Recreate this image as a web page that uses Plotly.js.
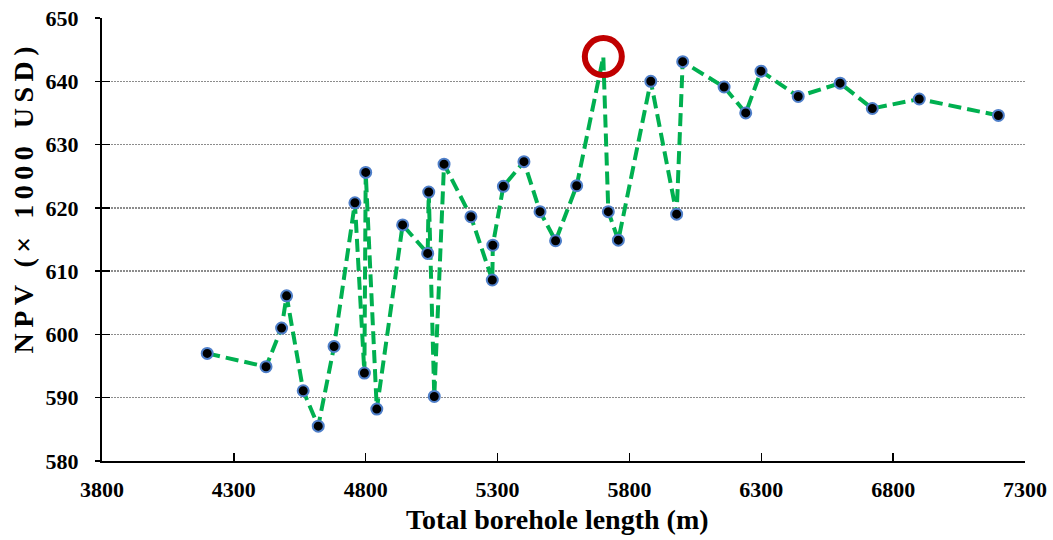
<!DOCTYPE html>
<html>
<head>
<meta charset="utf-8">
<script src="https://cdn.plot.ly/plotly-3.0.1.min.js"></script>
<style>
html,body{margin:0;padding:0;background:#fff;}
#chart{width:1053px;height:540px;}
#chart .annotation[data-index="1"] .annotation-text{letter-spacing:5.5px;}
</style>
</head>
<body>
<div id="chart"></div>
<script>
// Total borehole length (m)
const boreholeLength = [4199, 4422, 4481, 4500, 4563, 4620, 4680, 4759, 4795, 4800, 4842, 4940,
  5035, 5039, 5060, 5097, 5199, 5280, 5282, 5322, 5400, 5461, 5520, 5600, 5701, 5720, 5758,
  5881, 5979, 6002, 6159, 6241, 6299, 6440, 6599, 6721, 6899, 7199];
// NPV (x 1000 USD)
const npv = [597.0, 594.9, 601.0, 606.1, 591.1, 585.5, 598.1, 620.8, 593.9, 625.6, 588.2, 617.3,
  612.8, 622.5, 590.2, 626.9, 618.6, 608.6, 614.1, 623.4, 627.3, 619.4, 614.8, 623.5, 643.9, 619.4, 614.9,
  640.0, 619.0, 643.1, 639.1, 635.0, 641.6, 637.6, 639.7, 635.7, 637.2, 634.6];
const xTicks = [3800, 4300, 4800, 5300, 5800, 6300, 6800, 7300];
const yTicks = [580, 590, 600, 610, 620, 630, 640, 650];
const xTitle = 'Total borehole length (m)';
const yTitle = 'NPV (× 1000 USD)';

const bestIdx = npv.indexOf(Math.max(...npv));
const markerSizes = npv.map((v, i) => i === bestIdx ? 0 : 11);

const font = 'Liberation Serif, Times New Roman, serif';
const bold = s => '<b>' + s + '</b>';

const traces = [
  {
    x: boreholeLength, y: npv, type: 'scatter', mode: 'lines+markers',
    line: {color: '#00B050', width: 4, dash: '13px,6px'},
    marker: {color: '#000000', opacity: 1, size: markerSizes, line: {color: '#4F7FC9', width: 2}},
    hoverinfo: 'x+y', showlegend: false
  },
  {
    x: [boreholeLength[bestIdx]], y: [npv[bestIdx]], type: 'scatter', mode: 'markers',
    marker: {symbol: 'circle-open', size: 37, color: '#C00000', line: {color: '#C00000', width: 6}},
    hoverinfo: 'skip', showlegend: false
  },
  {
    // invisible companion trace so the inner-tick y axis is drawn
    x: boreholeLength, y: npv, type: 'scatter', mode: 'none', yaxis: 'y2',
    hoverinfo: 'skip', showlegend: false
  }
];

const tickFont = {family: font, size: 22, color: '#000'};

const layout = {
  width: 1053, height: 540,
  margin: {l: 102, r: 28, t: 18, b: 79},
  paper_bgcolor: '#fff', plot_bgcolor: '#fff',
  font: {family: font, color: '#000'},
  xaxis: {
    range: [3800, 7300], tickvals: xTicks, ticktext: xTicks.map(v => bold(v)),
    showgrid: false, zeroline: false,
    showline: true, linecolor: '#000', linewidth: 2,
    ticks: 'inside', ticklen: 8, tickwidth: 1.5, tickcolor: '#000',
    ticklabelstandoff: 8,
    tickfont: tickFont
  },
  yaxis: {
    range: [580, 650], tickvals: yTicks, ticktext: yTicks.map(v => bold(v)),
    showgrid: true, gridcolor: '#8c8c8c', gridwidth: 1.3, griddash: '1.5px,1.5px',
    zeroline: false,
    showline: true, linecolor: '#000', linewidth: 2,
    ticks: 'outside', ticklen: 5, tickwidth: 1.5, tickcolor: '#000',
    ticklabelstandoff: 12,
    tickfont: tickFont
  },
  yaxis2: {
    range: [580, 650], tickvals: yTicks, overlaying: 'y', side: 'left', anchor: 'x',
    showgrid: false, zeroline: false, showline: false, showticklabels: false,
    ticks: 'inside', ticklen: 8, tickwidth: 1.5, tickcolor: '#000'
  },
  annotations: [
    {
      text: bold(xTitle), xref: 'paper', yref: 'paper', x: 0.4935, y: -0.131,
      xanchor: 'center', yanchor: 'middle', showarrow: false,
      font: {family: font, size: 28, color: '#000'}
    },
    {
      text: bold(yTitle), xref: 'paper', yref: 'paper', x: -0.085, y: 0.596,
      xanchor: 'center', yanchor: 'middle', showarrow: false, textangle: -90,
      font: {family: font, size: 28, color: '#000'}
    }
  ]
};

Plotly.newPlot('chart', traces, layout, {displayModeBar: false, staticPlot: true});
</script>
</body>
</html>
